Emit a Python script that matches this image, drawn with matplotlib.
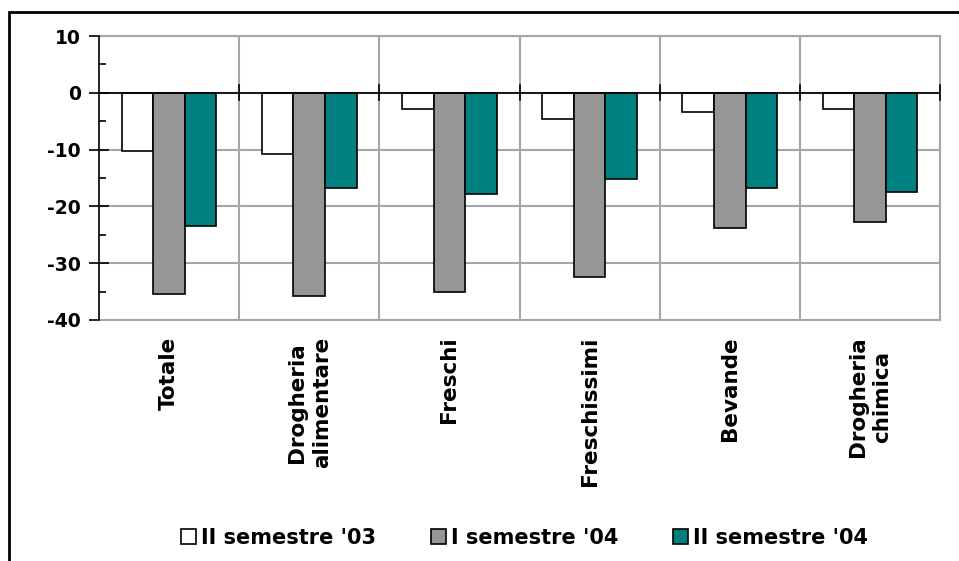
import numpy as np
import matplotlib.pyplot as plt
from matplotlib.patches import Rectangle
from matplotlib.ticker import MultipleLocator

categories = ['Totale', 'Drogheria\nalimentare', 'Freschi', 'Freschissimi',
              'Bevande', 'Drogheria\nchimica']
series_names = ["II semestre '03", "I semestre '04", "II semestre '04"]
sem2_03 = [-10.3, -10.7, -2.8, -4.6, -3.3, -2.8]
sem1_04 = [-35.5, -35.8, -35.1, -32.5, -23.8, -22.7]
sem2_04 = [-23.4, -16.7, -17.9, -15.2, -16.7, -17.4]

colors = ['white', '#969696', '#008080']

plt.rcParams['font.family'] = 'DejaVu Sans'
plt.rcParams['font.weight'] = 'bold'

fig = plt.figure(figsize=(9.59, 5.61), dpi=100)
ax = fig.add_axes([99 / 959, 1 - 320 / 561, (940 - 99) / 959, (320 - 36) / 561])

# outer frame of the chart area
fig.patches.append(Rectangle((9 / 959, -0.05), 1.0, 1 - 12 / 561 + 0.05,
                             transform=fig.transFigure, fill=False,
                             edgecolor='black', linewidth=2))

x = np.arange(len(categories))
w = 0.225
for i, (vals, name) in enumerate(zip([sem2_03, sem1_04, sem2_04], series_names)):
    ax.bar(x + (i - 1) * w, vals, width=w, color=colors[i], edgecolor='black',
           linewidth=1.2, label=name, zorder=3)

ax.set_xlim(-0.5, len(categories) - 0.5)
ax.set_ylim(-40, 10)
ax.yaxis.set_major_locator(MultipleLocator(10))
ax.yaxis.set_minor_locator(MultipleLocator(5))

# grid
for yv in range(-40, 11, 10):
    ax.axhline(yv, color='#a6a6a6', linewidth=1.5, zorder=1)
for b in np.arange(0.5, len(categories) - 0.5, 1):
    ax.axvline(b, color='#a6a6a6', linewidth=1.5, zorder=1)
for s in ['top', 'right', 'bottom']:
    ax.spines[s].set_color('#a6a6a6')
    ax.spines[s].set_linewidth(1.5)
ax.spines['left'].set_color('black')
ax.spines['left'].set_linewidth(1.2)
ax.spines['left'].set_zorder(5)

# zero line with category ticks
ax.axhline(0, color='black', linewidth=1.2, zorder=4)
for b in np.arange(0.5, len(categories), 1):
    ax.plot([b, b], [-1.3, 1.3], color='black', linewidth=1.2, zorder=4,
            clip_on=False)

ax.set_xticks(x)
ax.set_xticklabels(categories, rotation=90, fontsize=15.5, fontweight='bold',
                   linespacing=1.3)
ax.tick_params(axis='x', length=0, pad=12)
ax.tick_params(axis='y', which='major', direction='inout', length=14, width=1.2,
               labelsize=13.5, pad=6)
ax.tick_params(axis='y', which='minor', direction='in', length=5, width=1.2)
ax.set_yticks(range(-40, 11, 10))
ax.set_yticklabels([str(v) for v in range(-40, 11, 10)], fontweight='bold')

fig.legend(loc='center', bbox_to_anchor=(0.547, 1 - 538 / 561), ncol=3,
           frameon=False, handlelength=0.7, handleheight=0.7,
           handletextpad=0.25, columnspacing=2.65,
           prop={'weight': 'bold', 'size': 15})

fig.savefig('out.png', dpi=100)
